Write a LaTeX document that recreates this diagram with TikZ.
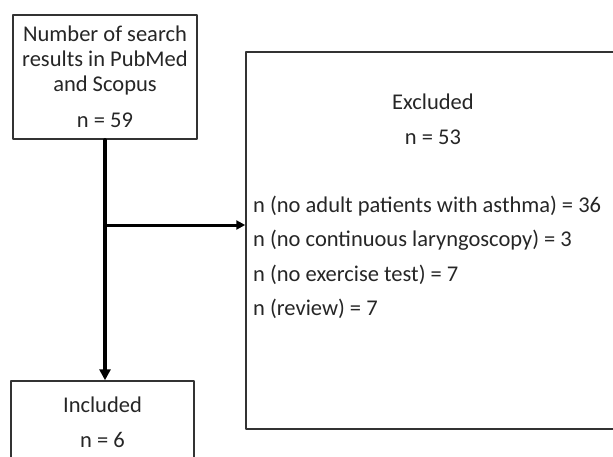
\documentclass[tikz,border=0pt]{standalone}
\usepackage{fontspec}
\setmainfont{Carlito}
\usetikzlibrary{arrows.meta}

\tikzset{
  box/.style={draw=black!80,line width=1.5pt,inner sep=0pt,align=center,text=black!85},
  txt/.style={inner sep=0pt,text=black!85},
  flow/.style={line width=3.2pt,-{Triangle[length=11pt,width=11pt]}},
  branch/.style={line width=3pt,-{Triangle[length=9pt,width=9pt]}},
}

\begin{document}
\begin{tikzpicture}[x=1pt,y=-1pt,line cap=round,line join=round,font=\fontsize{22.5}{25}\selectfont]
  \clip (0,0) rectangle (613,456);
  \node[box,minimum width=184pt,minimum height=124pt] (search) at (105,77)
    {Number of search\\results in PubMed\\and Scopus\\[11pt]n = 59};
  \node[box,minimum width=183pt,minimum height=82pt] (incl) at (102.5,422)
    {Included\\[10pt]n = 6};
  \node[box,minimum width=374pt,minimum height=377pt] (excl) at (433,240.5) {};
  \node[txt,align=center,font=\fontsize{22.5}{35}\selectfont] (exclhead) at (433,119.5)
    {Excluded\\n = 53};
  \node[txt,align=left,anchor=west,font=\fontsize{22.5}{34.5}\selectfont] (reasons) at (253,257.5)
    {n (no adult patients with asthma) = 36\\
     n (no continuous laryngoscopy) = 3\\
     n (no exercise test) = 7\\
     n (review) = 7};
  \coordinate (split) at (105,225);
  \draw[flow] (search.south) -- (search.south |- incl.north);
  \draw[branch] (split) -- (split -| excl.west);
\end{tikzpicture}
\end{document}
